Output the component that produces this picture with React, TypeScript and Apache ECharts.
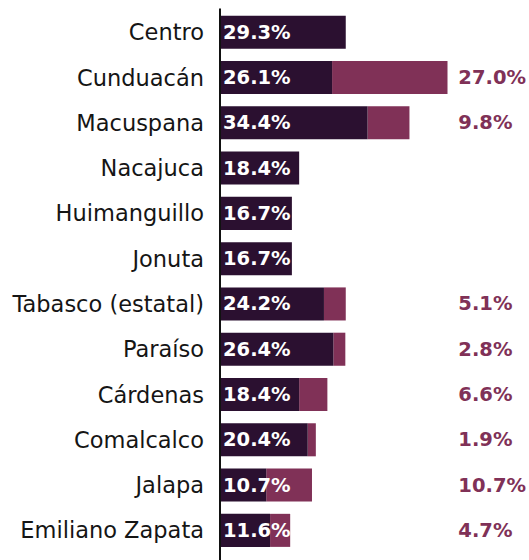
import React, { useEffect, useRef } from "react";
import * as echarts from "echarts";

const categories = [
  "Centro",
  "Cunduacán",
  "Macuspana",
  "Nacajuca",
  "Huimanguillo",
  "Jonuta",
  "Tabasco (estatal)",
  "Paraíso",
  "Cárdenas",
  "Comalcalco",
  "Jalapa",
  "Emiliano Zapata",
];
const baseValues = [29.3, 26.1, 34.4, 18.4, 16.7, 16.7, 24.2, 26.4, 18.4, 20.4, 10.7, 11.6];
const extraValues = [0, 27.0, 9.8, 0, 0, 0, 5.1, 2.8, 6.6, 1.9, 10.7, 4.7];

const DARK = "#2b1030";
const PINK = "#803157";
const FONT = "DejaVu Sans";

export default function App() {
  const ref = useRef<HTMLDivElement>(null);
  useEffect(() => {
    document.body.style.margin = "0";
    const chart = echarts.init(ref.current!, undefined, { renderer: "svg" });
    const gridLeft = 220.5;
    const gridTop = 9.6;
    const gridHeight = 543.4;
    const xMax = 54;
    const gridWidth = xMax * 4.28;
    chart.setOption({
      animation: false,
      grid: { left: gridLeft, top: gridTop, width: gridWidth, height: gridHeight, containLabel: false },
      xAxis: {
        type: "value",
        min: 0,
        max: xMax,
        show: false,
      },
      yAxis: [
        {
          type: "category",
          data: categories,
          inverse: true,
          axisLine: { show: false },
          axisTick: { show: false },
          axisLabel: {
            margin: 16.5,
            color: "#151515",
            fontFamily: FONT,
            fontSize: 22.5,
          },
        },
        {
          type: "category",
          data: extraValues.map((v) => (v > 0 ? v.toFixed(1) + "%" : "")),
          inverse: true,
          position: "right",
          axisLine: { show: false },
          axisTick: { show: false },
          axisLabel: {
            margin: 7,
            align: "left",
            color: PINK,
            fontFamily: FONT,
            fontWeight: "bold",
            fontSize: 19.5,
          },
        },
      ],
      series: [
        {
          type: "bar",
          stack: "total",
          data: baseValues,
          barCategoryGap: "27%",
          itemStyle: { color: DARK },
          z: 3,
          label: {
            show: true,
            position: "insideLeft",
            distance: 2.5,
            color: "#ffffff",
            fontFamily: FONT,
            fontWeight: "bold",
            fontSize: 19.5,
            formatter: (p: any) => p.value.toFixed(1) + "%",
          },
        },
        {
          type: "bar",
          stack: "total",
          data: extraValues,
          itemStyle: { color: PINK },
          z: 2,
        },
      ],
      graphic: [
        {
          type: "line",
          shape: { x1: gridLeft - 0.5, y1: gridTop - 1, x2: gridLeft - 0.5, y2: 560 },
          style: { stroke: "#111111", lineWidth: 2 },
          z: 10,
        },
      ],
    });
    return () => chart.dispose();
  }, []);
  return <div ref={ref} style={{ width: 529, height: 560 }} />;
}
